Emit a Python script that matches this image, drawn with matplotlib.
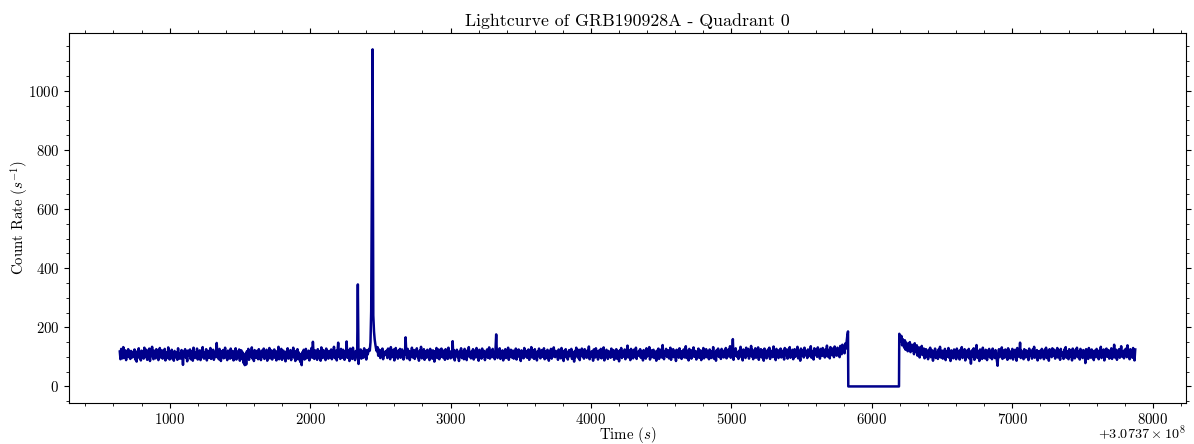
import numpy as np
import matplotlib
matplotlib.use("Agg")
import matplotlib.pyplot as plt
from matplotlib.ticker import MultipleLocator

plt.rcParams["font.family"] = "serif"
plt.rcParams["font.serif"] = ["cmr10"]
plt.rcParams["mathtext.fontset"] = "cm"
plt.rcParams["axes.formatter.use_mathtext"] = True
plt.rcParams["font.size"] = 10.7

# --- Datos de la curva de luz (bins de 5 s) ---
t_ref = 307370000.0
t_start1 = 645      # primer bin, segmento antes del hueco
t_start2 = 6195     # primer bin, segmento despues del hueco
bin_s = 5

rate1 = [
    118, 92, 127, 101, 95, 133, 108, 97, 122, 89, 114, 104, 126, 99, 111, 93, 120, 106, 98, 117,
    103, 125, 91, 110, 84, 119, 107, 129, 96, 113, 88, 121, 102, 116, 94, 131, 105, 99, 124, 90,
    112, 97, 128, 86, 118, 106, 134, 100, 92, 121, 109, 95, 126, 103, 117, 89, 113, 130, 98, 107,
    122, 94, 110, 101, 127, 88, 115, 104, 96, 132, 108, 91, 119, 100, 124, 93, 111, 87, 120, 105,
    98, 116, 90, 129, 102, 94, 112, 95, 123, 107, 73, 118, 101, 126, 97, 109, 85, 121, 104, 113,
    125, 92, 108, 119, 87, 131, 103, 96, 114, 100, 128, 91, 117, 106, 122, 89, 110, 99, 133, 102,
    94, 115, 107, 126, 88, 112, 120, 97, 105, 130, 93, 118, 101, 124, 90, 109, 116, 99, 147, 104,
    111, 92, 127, 100, 86, 119, 108, 123, 95, 113, 131, 98, 106, 89, 121, 103, 117, 94, 128, 109,
    96, 120, 88, 114, 104, 129, 91, 110, 118, 99, 125, 87, 107, 122, 93, 115, 80, 102, 72, 111,
    74, 119, 98, 127, 90, 108, 116, 101, 132, 94, 112, 86, 123, 105, 97, 120, 110, 92, 126, 103,
    115, 89, 121, 107, 99, 128, 93, 111, 104, 124, 87, 117, 100, 130, 95, 109, 122, 91, 113, 106,
    125, 97, 110, 88, 119, 103, 134, 92, 115, 101, 127, 90, 108, 121, 96, 113, 85, 118, 107, 129,
    94, 112, 102, 123, 89, 117, 106, 131, 98, 110, 86, 120, 104, 126, 92, 115, 100, 83, 109, 72,
    116, 99, 124, 91, 108, 127, 95, 113, 103, 121, 88, 118, 106, 130, 97, 151, 109, 93, 122, 101,
    114, 90, 126, 105, 98, 119, 87, 132, 108, 96, 123, 102, 115, 89, 128, 104, 111, 94, 120, 107,
    99, 125, 92, 117, 103, 134, 96, 110, 121, 88, 113, 148, 101, 119, 93, 127, 106, 97, 124, 111,
    90, 118, 105, 152, 97, 122, 109, 86, 128, 101, 115, 93, 131, 104, 112, 89, 120, 99, 108, 345,
    76, 117, 101, 125, 94, 110, 120, 97, 129, 106, 114, 91, 123, 108, 118, 127, 121, 150, 255, 690,
    1140, 240, 186, 158, 141, 127, 119, 133, 104, 125, 111, 96, 122, 107, 128, 92, 116, 105, 118, 109,
    121, 96, 128, 107, 115, 92, 133, 103, 118, 99, 125, 88, 112, 130, 101, 116, 94, 122, 108, 127,
    97, 114, 125, 104, 91, 119, 108, 166, 113, 95, 127, 102, 120, 89, 116, 106, 131, 98, 111, 123,
    93, 118, 104, 129, 99, 112, 87, 121, 107, 134, 95, 115, 102, 126, 90, 110, 119, 97, 124, 105,
    113, 89, 127, 101, 116, 94, 122, 108, 84, 119, 103, 130, 96, 111, 125, 92, 117, 100, 128, 106,
    98, 121, 109, 90, 126, 104, 115, 93, 131, 107, 119, 95, 112, 101, 153, 97, 123, 88, 116, 110,
    124, 99, 114, 86, 120, 106, 129, 96, 111, 118, 92, 127, 103, 115, 89, 122, 108, 133, 100, 112,
    95, 119, 105, 126, 91, 113, 121, 98, 130, 102, 110, 87, 124, 107, 117, 94, 128, 101, 114, 120,
    89, 116, 103, 125, 97, 111, 132, 94, 120, 106, 99, 127, 108, 114, 92, 123, 176, 112, 96, 118,
    104, 129, 93, 115, 101, 122, 88, 117, 110, 126, 96, 113, 105, 131, 90, 119, 102, 124, 98, 109,
    121, 94, 114, 107, 128, 91, 118, 103, 125, 99, 111, 86, 122, 108, 116, 95, 130, 101, 113, 120,
    97, 112, 125, 90, 117, 104, 133, 98, 109, 121, 93, 126, 106, 114, 88, 119, 102, 128, 110, 95,
    116, 123, 100, 108, 129, 92, 113, 119, 96, 124, 105, 87, 118, 111, 127, 94, 115, 101, 132, 107,
    99, 120, 106, 114, 90, 125, 103, 117, 95, 130, 109, 112, 86, 121, 104, 126, 98, 115, 91, 118,
    123, 102, 110, 127, 93, 116, 108, 84, 120, 99, 131, 105, 113, 96, 124, 89, 117, 107, 128, 101,
    112, 94, 126, 103, 118, 97, 122, 109, 135, 92, 114, 100, 119, 106, 87, 125, 111, 98, 129, 104,
    117, 91, 121, 108, 99, 127, 95, 113, 104, 132, 88, 116, 102, 124, 110, 93, 120, 106, 114, 97,
    128, 100, 111, 123, 90, 115, 105, 126, 94, 118, 109, 85, 122, 103, 130, 96, 112, 119, 101, 125,
    92, 116, 107, 138, 98, 113, 121, 89, 127, 104, 110, 95, 124, 117, 100, 131, 93, 114, 106, 120,
    103, 126, 97, 112, 119, 88, 123, 108, 115, 94, 129, 101, 117, 105, 133, 91, 110, 122, 99, 113,
    124, 96, 118, 107, 87, 121, 111, 128, 93, 116, 102, 125, 98, 140, 109, 92, 119, 104, 127, 100,
    114, 122, 95, 108, 131, 90, 117, 103, 126, 99, 112, 120, 86, 124, 106, 115, 97, 129, 101, 118,
    93, 119, 110, 125, 98, 113, 136, 96, 121, 105, 88, 127, 102, 116, 94, 123, 108, 132, 100, 111,
    120, 91, 115, 104, 128, 97, 112, 122, 89, 118, 106, 130, 95, 114, 103, 126, 99, 117, 109, 92,
    125, 108, 96, 119, 102, 133, 94, 116, 111, 87, 123, 105, 128, 100, 113, 120, 93, 127, 104, 115,
    98, 122, 107, 130, 95, 118, 101, 126, 112, 136, 97, 119, 108, 160, 90, 124, 103, 129, 113, 100,
    116, 93, 121, 106, 134, 99, 114, 88, 125, 109, 118, 96, 131, 103, 111, 127, 94, 120, 105, 137,
    101, 124, 92, 115, 108, 129, 97, 119, 104, 132, 90, 117, 110, 126, 98, 113, 122, 87, 128, 106,
    119, 95, 114, 125, 102, 131, 93, 116, 109, 121, 99, 135, 104, 112, 89, 127, 107, 118, 96, 123,
    110, 128, 98, 117, 103, 122, 91, 130, 106, 114, 125, 94, 119, 101, 133, 97, 115, 108, 124, 92,
    113, 126, 100, 119, 107, 134, 95, 121, 110, 87, 128, 104, 116, 123, 98, 131, 105, 112, 120, 96,
    125, 102, 117, 109, 136, 97, 120, 113, 91, 129, 106, 118, 124, 100, 132, 108, 115, 94, 127, 111,
    103, 130, 114, 121, 98, 126, 109, 138, 101, 119, 124, 95, 133, 112, 106, 128, 117, 99, 135, 110,
    122, 104, 131, 115, 126, 99, 137, 118, 109, 141, 121, 132, 112, 145, 128, 150, 172, 186,
]

# hueco sin datos (tasa cero)
t_gap = [5832, 6193]
rate_gap = [0, 0]

rate2 = [
    178, 168, 152, 171, 139, 160, 145, 131, 156, 124, 148, 137, 119, 144, 128, 150, 116, 135, 141, 122,
    133, 109, 146, 118, 127, 139, 104, 124, 132, 98, 121, 113, 137, 106, 119, 128, 95, 115, 126, 101,
    118, 92, 124, 108, 131, 99, 114, 122, 87, 119, 105, 128, 96, 111, 117, 93, 125, 103, 134, 98,
    110, 121, 94, 116, 106, 127, 89, 113, 119, 101, 130, 97, 112, 86, 122, 108, 118, 95, 125, 104,
    115, 92, 128, 100, 120, 109, 91, 124, 106, 133, 96, 117, 103, 126, 88, 113, 121, 99, 110, 127,
    94, 118, 77, 112, 123, 101, 129, 90, 115, 107, 140, 97, 120, 104, 86, 125, 111, 118, 93, 131,
    102, 116, 95, 124, 108, 89, 121, 113, 127, 98, 110, 119, 92, 128, 105, 117, 96, 123, 101, 88,
    70, 114, 126, 99, 118, 107, 132, 93, 111, 122, 97, 125, 104, 116, 90, 129, 109, 120, 95, 113,
    106, 127, 91, 119, 102, 124, 113, 87, 130, 100, 117, 108, 148, 96, 121, 105, 114, 92, 126, 110,
    98, 122, 107, 116, 89, 128, 103, 119, 111, 94, 125, 100, 134, 97, 115, 109, 123, 88, 118, 104,
    120, 95, 113, 127, 101, 117, 92, 124, 108, 131, 96, 112, 121, 87, 126, 106, 115, 99, 129, 103,
    111, 124, 94, 118, 106, 130, 98, 114, 122, 90, 127, 104, 116, 109, 93, 125, 101, 133, 97, 119,
    107, 92, 126, 113, 100, 121, 88, 128, 110, 117, 95, 124, 103, 131, 99, 115, 120, 91, 127, 105,
    118, 96, 123, 109, 114, 79, 126, 101, 119, 93, 130, 107, 112, 97, 125, 104, 117, 89, 121, 110,
    99, 127, 105, 115, 92, 122, 108, 134, 96, 117, 103, 125, 88, 119, 111, 128, 100, 114, 123, 94,
    116, 102, 129, 93, 121, 107, 141, 98, 112, 124, 90, 118, 104, 126, 97, 113, 136, 101, 119, 106,
    95, 124, 110, 128, 99, 139, 104, 117, 92, 126, 108, 121, 97, 130, 112, 88, 125,
]

# --- Construir series de tiempo ---
t1 = t_start1 + bin_s * np.arange(len(rate1))
t2 = t_start2 + bin_s * np.arange(len(rate2))
time = t_ref + np.concatenate([t1, t_gap, t2]).astype(float)
rate = np.concatenate([rate1, rate_gap, rate2]).astype(float)

# --- Graficar ---
fig = plt.figure(figsize=(11.94, 4.44), dpi=100)
ax = fig.add_axes([0.0578, 0.0917, 0.9355, 0.8351])
ax.plot(time, rate, color="darkblue", lw=1.8)
ax.set_title("Lightcurve of GRB190928A - Quadrant 0", pad=5)
ax.set_xlabel("Time ($s$)", labelpad=-1)
ax.set_ylabel("Count Rate ($s^{-1}$)", labelpad=-1)
ax.xaxis.set_minor_locator(MultipleLocator(200))
ax.yaxis.set_minor_locator(MultipleLocator(50))
ax.tick_params(which="both", direction="out", top=True, right=True)
ax.tick_params(axis="x", which="major", pad=2.5)

# el texto de offset se sale del borde; se coloca a mano debajo del 8000
fig.canvas.draw()
offset_str = ax.xaxis.get_major_formatter().get_offset()
ax.xaxis.offsetText.set_visible(False)
fig.text(0.9933, 0.003, offset_str, ha="right", va="bottom", fontsize=10.2)

fig.savefig("out.png", dpi=100)
